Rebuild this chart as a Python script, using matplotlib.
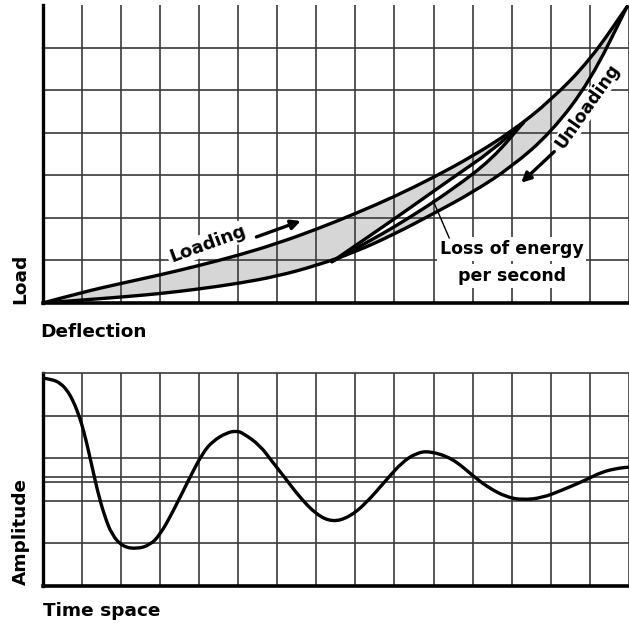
import matplotlib
matplotlib.use('Agg')
import matplotlib.pyplot as plt
import matplotlib.patches as patches
from matplotlib.path import Path

plt.rcParams['font.family'] = ['DejaVu Sans']

# top chart: load vs deflection, in grid units
loading_x = [0, 1, 2, 3, 4, 5, 6, 7, 8, 9, 10, 11, 12, 13, 14, 14.95]
loading_y = [0, 0.25, 0.46, 0.66, 0.88, 1.12, 1.40, 1.73, 2.10, 2.50, 2.95, 3.45, 4.03, 4.76, 5.70, 6.96]
unloading_x = [0, 1, 2, 3, 4, 5, 6, 7, 8, 9, 10, 11, 12, 13, 14, 14.95]
unloading_y = [0, 0.07, 0.14, 0.22, 0.33, 0.46, 0.63, 0.88, 1.20, 1.62, 2.10, 2.60, 3.20, 4.00, 5.20, 6.96]
inner_x = [7.4, 8.5, 9.5, 10.5, 11.5, 12.3]
inner_up_y = [0.97, 1.66, 2.30, 2.95, 3.58, 4.24]
inner_lo_y = [0.97, 1.52, 2.07, 2.68, 3.38, 4.24]

# bottom chart: damped amplitude over time
time_x = [0.0, 0.25, 0.45, 0.62, 0.76, 0.88, 1.0, 1.12, 1.25, 1.41, 1.58, 1.77, 2.05, 2.41,
          2.74, 3.00, 3.33, 3.76, 4.09, 4.35, 4.71, 4.96, 5.12, 5.55, 5.88, 6.24, 6.57, 7.01,
          7.42, 7.85, 8.28, 8.79, 9.20, 9.56, 9.89, 10.48, 11.04, 11.42, 11.86, 12.27, 12.78,
          13.29, 13.90, 14.31, 14.75, 15.0]
amplitude = [2.38, 2.35, 2.26, 2.10, 1.88, 1.62, 1.30, 0.88, 0.35, -0.30, -0.85, -1.30, -1.58,
             -1.63, -1.54, -1.30, -0.76, 0.04, 0.62, 0.90, 1.10, 1.14, 1.09, 0.81, 0.41, -0.01,
             -0.41, -0.83, -1.00, -0.88, -0.55, -0.01, 0.41, 0.62, 0.67, 0.50, 0.06, -0.20,
             -0.41, -0.48, -0.43, -0.25, -0.01, 0.18, 0.27, 0.29]

GRID = '#3a3a3a'
FILL = '#d6d6d6'


def smooth(xs, ys, first=Path.MOVETO):
    # quadratic b-spline through midpoints, just for drawing
    pts = list(zip(xs, ys))
    verts = [pts[0]]
    codes = [first]
    for i in range(1, len(pts) - 1):
        mid = ((pts[i][0] + pts[i + 1][0]) / 2, (pts[i][1] + pts[i + 1][1]) / 2)
        verts += [pts[i], mid]
        codes += [Path.CURVE3, Path.CURVE3]
    verts.append(pts[-1])
    codes.append(Path.LINETO)
    return verts, codes


def curve(ax, xs, ys):
    v, c = smooth(xs, ys)
    ax.add_patch(patches.PathPatch(Path(v, c), fill=False, lw=2.4, ec='black',
                                   capstyle='round', joinstyle='round', zorder=3))


def region(ax, xs1, ys1, xs2, ys2, color, z):
    v1, c1 = smooth(xs1, ys1)
    v2, c2 = smooth(xs2[::-1], ys2[::-1], first=Path.LINETO)
    verts = v1 + v2 + [v1[0]]
    codes = c1 + c2 + [Path.CLOSEPOLY]
    ax.add_patch(patches.PathPatch(Path(verts, codes), fc=color, ec='none', zorder=z))


def grid_axes(ax, yticks):
    ax.set_xticks(range(1, 16))
    ax.set_yticks(yticks)
    ax.tick_params(length=0, labelbottom=False, labelleft=False)
    ax.grid(True, color=GRID, lw=1.2)
    for s in ['right', 'top']:
        ax.spines[s].set_visible(False)
    ax.spines['left'].set_linewidth(2.4)
    ax.spines['bottom'].set_linewidth(2.6)


fig = plt.figure(figsize=(6.29, 6.23), dpi=100)

# top panel
ax1 = fig.add_axes([0.0679, 0.5136, 0.9321, 0.4784])
ax1.set_xlim(0, 15)
ax1.set_ylim(0, 7)
grid_axes(ax1, range(1, 7))

region(ax1, loading_x, loading_y, unloading_x, unloading_y, FILL, 1)
region(ax1, inner_x, inner_up_y, inner_x, inner_lo_y, 'white', 1.1)
curve(ax1, loading_x, loading_y)
curve(ax1, unloading_x, unloading_y)
curve(ax1, inner_x, inner_up_y)
curve(ax1, inner_x, inner_lo_y)

box = dict(facecolor='white', edgecolor='none', pad=1.5)
ax1.text(4.22, 1.39, 'Loading', rotation=20, rotation_mode='anchor', ha='center', va='center',
         fontsize=13, fontweight='bold', bbox=box, zorder=2)
ax1.annotate('', xy=(6.67, 1.95), xytext=(5.40, 1.53),
             arrowprops=dict(arrowstyle='-|>', lw=2.4, color='black', mutation_scale=14))
ax1.text(13.95, 4.62, 'Unloading', rotation=55, rotation_mode='anchor', ha='center', va='center',
         fontsize=12.5, fontweight='bold', bbox=dict(facecolor='white', edgecolor='none', pad=0.5),
         zorder=2)
ax1.annotate('', xy=(12.19, 2.78), xytext=(13.14, 3.60),
             arrowprops=dict(arrowstyle='-|>', lw=2.4, color='black', mutation_scale=14))
ax1.text(12.0, 1.27, 'Loss of energy', ha='center', va='center', fontsize=12.5,
         fontweight='bold', bbox=dict(facecolor='white', edgecolor='none', pad=2), zorder=2)
ax1.text(12.0, 0.64, 'per second', ha='center', va='center', fontsize=12.5,
         fontweight='bold', bbox=dict(facecolor='white', edgecolor='none', pad=2), zorder=2)
ax1.plot([10.4, 9.99], [1.53, 2.40], color='black', lw=1.0, zorder=3)

# bottom panel
ax2 = fig.add_axes([0.0679, 0.0594, 0.9321, 0.3419])
ax2.set_xlim(0, 15)
ax2.set_ylim(-2.5, 2.5)
grid_axes(ax2, [-1.5, -0.5, 0.5, 1.5])
ax2.spines['top'].set_visible(True)
ax2.spines['top'].set_color(GRID)
ax2.spines['top'].set_linewidth(1.2)
ax2.axhline(0.055, color=GRID, lw=1.2)
ax2.axhline(-0.055, color=GRID, lw=1.2)
curve(ax2, time_x, amplitude)

# axis captions
fig.text(0.0318, 0.512, 'Load', rotation=90, ha='center', va='bottom', fontsize=13.3,
         fontweight='bold')
fig.text(0.064, 0.459, 'Deflection', ha='left', va='baseline', fontsize=13.3, fontweight='bold')
fig.text(0.033, 0.061, 'Amplitude', rotation=90, ha='center', va='bottom', fontsize=13.3,
         fontweight='bold')
fig.text(0.068, 0.0112, 'Time space', ha='left', va='baseline', fontsize=13.3,
         fontweight='bold')

fig.savefig('out.png', dpi=100)
